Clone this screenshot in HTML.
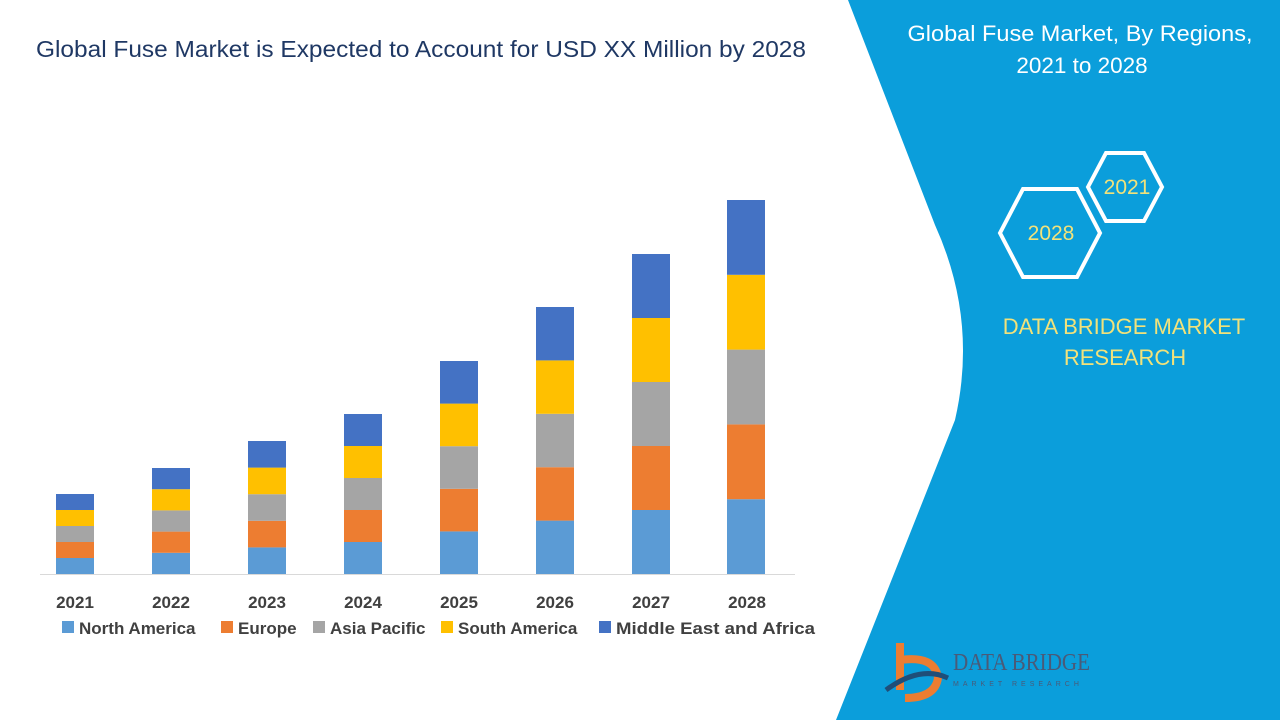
<!DOCTYPE html>
<html><head><meta charset="utf-8"><style>
body{margin:0;width:1280px;height:720px;overflow:hidden;background:#fff;font-family:"Liberation Sans",sans-serif;position:relative}
</style></head><body>
<svg width="1280" height="720" style="position:absolute;left:0;top:0">
<path d="M848,0 L935,225 Q978,320 955,420 L836,720 L1280,720 L1280,0 Z" fill="#0b9edb"/>
<text x="421" y="57" font-size="23.5" fill="#1f3864" text-anchor="middle" textLength="770" lengthAdjust="spacingAndGlyphs">Global Fuse Market is Expected to Account for USD XX Million by 2028</text>
<text x="1080" y="41" font-size="22.5" fill="#fff" text-anchor="middle" textLength="345" lengthAdjust="spacingAndGlyphs">Global Fuse Market, By Regions,</text>
<text x="1082" y="73" font-size="22.5" fill="#fff" text-anchor="middle">2021 to 2028</text>
<polygon points="1088,187 1106,153 1144,153 1162,187 1144,221 1106,221" fill="none" stroke="#fff" stroke-width="4"/>
<polygon points="1000,233 1023,189 1077,189 1100,233 1077,277 1023,277" fill="none" stroke="#fff" stroke-width="4"/>
<text x="1127" y="194" font-size="21" fill="#f2e27a" text-anchor="middle">2021</text>
<text x="1051" y="240" font-size="21" fill="#f2e27a" text-anchor="middle">2028</text>
<text x="1124" y="334" font-size="22" fill="#f2e27a" text-anchor="middle">DATA BRIDGE MARKET</text>
<text x="1125" y="365" font-size="22" fill="#f2e27a" text-anchor="middle">RESEARCH</text>
<path d="M900,643 L900,690 M900,660 Q935,655 938,678 Q935,698 905,698" stroke="#ec7d31" stroke-width="8" fill="none"/>
<path d="M886,690 Q920,665 948,678" stroke="#1f4e79" stroke-width="5" fill="none"/>
<text x="953" y="670" font-size="24" fill="#4a5a78" font-family="Liberation Serif" textLength="137" lengthAdjust="spacingAndGlyphs">DATA BRIDGE</text>
<text x="953" y="686" font-size="7" fill="#4a5a78" letter-spacing="4">MARKET RESEARCH</text>
<line x1="40" y1="574.5" x2="795" y2="574.5" stroke="#d9d9d9" stroke-width="1"/>
<g id="bars"></g>
<g font-size="17" font-weight="bold" fill="#404040" text-anchor="middle">
<text x="75" y="608">2021</text><text x="171" y="608">2022</text><text x="267" y="608">2023</text><text x="363" y="608">2024</text><text x="459" y="608">2025</text><text x="555" y="608">2026</text><text x="651" y="608">2027</text><text x="747" y="608">2028</text>
</g>
<g font-size="17" font-weight="bold" fill="#404040">
<rect x="62" y="621" width="12" height="12" fill="#5b9bd5"/><text x="79" y="634">North America</text>
<rect x="221" y="621" width="12" height="12" fill="#ed7d31"/><text x="238" y="634">Europe</text>
<rect x="313" y="621" width="12" height="12" fill="#a5a5a5"/><text x="330" y="634">Asia Pacific</text>
<rect x="441" y="621" width="12" height="12" fill="#ffc000"/><text x="458" y="634">South America</text>
<rect x="599" y="621" width="12" height="12" fill="#4472c4"/><text x="616" y="634" textLength="199" lengthAdjust="spacingAndGlyphs">Middle East and Africa</text>
</g>
</svg>
<script>
var xs=[56,152,248,344,440,536,632,727],tops=[494,468,441,414,361,307,254,200],cols=["#5b9bd5","#ed7d31","#a5a5a5","#ffc000","#4472c4"],s="";
for(var i=0;i<8;i++){var h=(574-tops[i])/5;for(var j=0;j<5;j++){s+='<rect x="'+xs[i]+'" y="'+(574-h*(j+1))+'" width="38" height="'+h+'" fill="'+cols[j]+'"/>';}}
document.getElementById("bars").innerHTML=s;
</script>
</body></html>
